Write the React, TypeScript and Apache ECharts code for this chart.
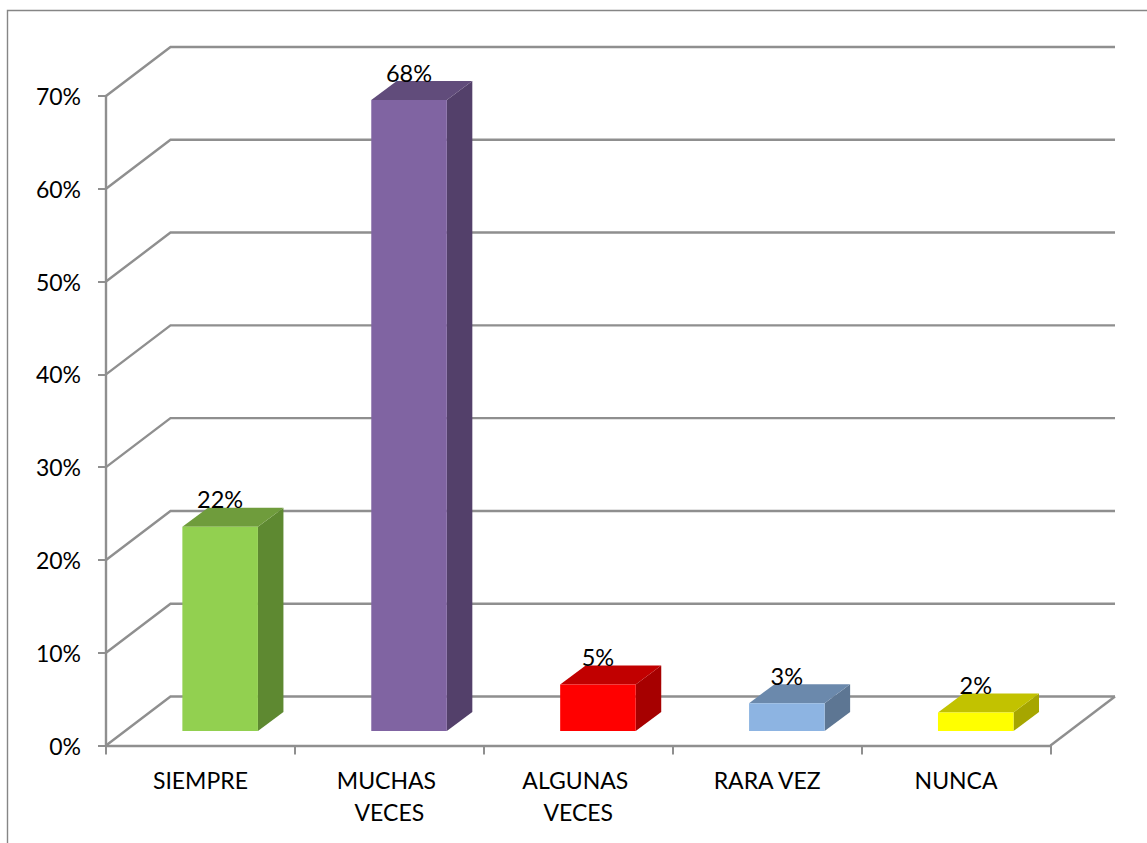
import React, { useEffect, useRef } from "react";
import * as echarts from "echarts";

const categories = ["SIEMPRE", "MUCHAS VECES", "ALGUNAS VECES", "RARA VEZ", "NUNCA"];
const percentages = [22, 68, 5, 3, 2];
const wallTicks = [0, 10, 20, 30, 40, 50, 60, 70];
const frontColors = ["#92D050", "#8064A2", "#FF0000", "#8DB4E2", "#FFFF00"];
const topColors = ["#6F9C3C", "#614C7B", "#C10000", "#6B89AC", "#C2C200"];
const sideColors = ["#5E8931", "#53406A", "#A60000", "#5D7693", "#A6A600"];

const GRID_COLOR = "#8F8F8F";
const FONT = "Lato, 'Open Sans', sans-serif";
const WALL_DX = 64.5;
const WALL_DY = -49;
const BAR_DX = 19.7;
const BAR_DY = -14.5;
const DEPTH_DX = 25.5;
const DEPTH_DY = -19;

export default function App() {
  const ref = useRef<HTMLDivElement>(null);
  useEffect(() => {
    const chart = echarts.init(ref.current!, undefined, { renderer: "svg" });
    chart.setOption({
      animation: false,
      backgroundColor: "#fff",
      textStyle: { fontFamily: FONT },
      grid: { left: 106, top: 96, width: 944.5, height: 649.5, containLabel: false },
      graphic: [
        {
          type: "polyline",
          silent: true,
          shape: { points: [[7.5, 843], [7.5, 10.5], [1147, 10.5]] },
          style: { stroke: "#868686", lineWidth: 1.4, fill: "none" },
        },
      ],
      xAxis: {
        type: "category",
        data: categories,
        axisLine: { lineStyle: { color: GRID_COLOR, width: 2.4 } },
        axisTick: { show: true, length: 9, lineStyle: { color: GRID_COLOR, width: 2 } },
        axisLabel: {
          color: "#000",
          fontSize: 23,
          fontFamily: FONT,
          lineHeight: 32,
          margin: 18,
          width: 130,
          overflow: "break",
          interval: 0,
        },
        splitLine: { show: false },
      },
      yAxis: {
        type: "value",
        min: 0,
        max: 70,
        interval: 10,
        axisLine: { show: true, lineStyle: { color: GRID_COLOR, width: 2.4 } },
        axisTick: { show: true, length: 8, lineStyle: { color: GRID_COLOR, width: 2 } },
        axisLabel: {
          color: "#000",
          fontSize: 23,
          fontFamily: FONT,
          margin: 25,
          formatter: (v: number) => v + "%",
        },
        splitLine: { show: false },
      },
      series: [
        {
          type: "custom",
          coordinateSystem: "cartesian2d",
          silent: true,
          clip: false,
          z: 1,
          encode: { x: 0, y: 1 },
          data: wallTicks.map((v) => [0, v]),
          renderItem: (params: any, api: any) => {
            const y = api.coord([0, api.value(1)])[1];
            const left = params.coordSys.x;
            const right = left + params.coordSys.width;
            const children: any[] = [
              {
                type: "polyline",
                shape: {
                  points: [
                    [left, y],
                    [left + WALL_DX, y + WALL_DY],
                    [right + WALL_DX, y + WALL_DY],
                  ],
                },
                style: { stroke: GRID_COLOR, lineWidth: 2.4, fill: "none" },
              },
            ];
            if (api.value(1) === 0) {
              children.push({
                type: "line",
                shape: { x1: right, y1: y, x2: right + WALL_DX, y2: y + WALL_DY },
                style: { stroke: GRID_COLOR, lineWidth: 2.4 },
              });
            }
            return { type: "group", children };
          },
        },
        {
          type: "custom",
          coordinateSystem: "cartesian2d",
          silent: true,
          clip: false,
          z: 2,
          encode: { x: 0, y: 1 },
          data: percentages.map((v, i) => [i, v]),
          renderItem: (params: any, api: any) => {
            const i = params.dataIndex;
            const base = api.coord([api.value(0), 0]);
            const tip = api.coord([api.value(0), api.value(1)]);
            const w = api.size([1, 0])[0] * 0.4;
            const x0 = base[0] + BAR_DX - w / 2;
            const x1 = x0 + w;
            const yb = base[1] + BAR_DY;
            const yt = tip[1] + BAR_DY;
            return {
              type: "group",
              children: [
                {
                  type: "polygon",
                  shape: {
                    points: [
                      [x1, yb],
                      [x1, yt],
                      [x1 + DEPTH_DX, yt + DEPTH_DY],
                      [x1 + DEPTH_DX, yb + DEPTH_DY],
                    ],
                  },
                  style: { fill: sideColors[i] },
                },
                {
                  type: "polygon",
                  shape: {
                    points: [
                      [x0, yt],
                      [x1, yt],
                      [x1 + DEPTH_DX, yt + DEPTH_DY],
                      [x0 + DEPTH_DX, yt + DEPTH_DY],
                    ],
                  },
                  style: { fill: topColors[i] },
                },
                {
                  type: "rect",
                  shape: { x: x0, y: yt, width: w, height: yb - yt },
                  style: { fill: frontColors[i] },
                },
                {
                  type: "text",
                  style: {
                    x: (x0 + x1) / 2,
                    y: yt - 27.5,
                    text: api.value(1) + "%",
                    fill: "#000",
                    fontSize: 23.5,
                    fontFamily: FONT,
                    align: "center",
                    verticalAlign: "middle",
                  },
                  z2: 10,
                },
              ],
            };
          },
        },
      ],
    });
    return () => chart.dispose();
  }, []);
  return (
    <div
      ref={ref}
      style={{ position: "absolute", left: 0, top: 0, width: 1147, height: 843 }}
    />
  );
}
